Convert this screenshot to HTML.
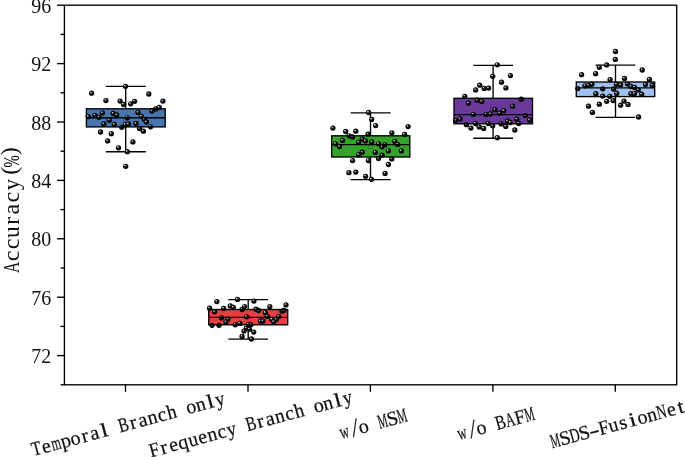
<!DOCTYPE html><html><head><meta charset="utf-8"><style>html,body{margin:0;padding:0;background:#fff;}svg{display:block;}text{filter:grayscale(1);}.tk{font-family:"Liberation Serif",serif;font-size:20px;fill:#111;}.xl{font-family:"Liberation Serif",serif;font-size:20px;fill:#111;stroke:#111;stroke-width:0.25px;}.yl{font-family:"Liberation Serif",serif;font-size:24px;fill:#111;}</style></head><body>
<svg width="685" height="457" viewBox="0 0 685 457">
<defs><radialGradient id="b" cx="0.5" cy="0.5" r="0.5" fx="0.33" fy="0.3"><stop offset="0" stop-color="#e8e8e8"/><stop offset="0.16" stop-color="#bbb"/><stop offset="0.4" stop-color="#1a1a1a"/><stop offset="1" stop-color="#000"/></radialGradient></defs>
<rect width="685" height="457" fill="#fff"/>
<g transform="translate(0.2,0.4)"><line x1="125.5" y1="86.0" x2="125.5" y2="108.4" stroke="#000" stroke-width="1.35"/><line x1="125.5" y1="126.5" x2="125.5" y2="151.3" stroke="#000" stroke-width="1.35"/><line x1="105.6" y1="86.0" x2="145.6" y2="86.0" stroke="#000" stroke-width="1.35"/><line x1="105.6" y1="151.3" x2="145.6" y2="151.3" stroke="#000" stroke-width="1.35"/><rect x="86.2" y="108.4" width="78.8" height="18.1" fill="#4875b0"/><rect x="123.5" y="117.2" width="3.6" height="3.6" fill="none" stroke="#000" stroke-opacity="0.35" stroke-width="0.6"/><circle cx="125.3" cy="85.9" r="2.65" fill="url(#b)"/><circle cx="91.4" cy="92.8" r="2.65" fill="url(#b)"/><circle cx="148.6" cy="93.6" r="2.65" fill="url(#b)"/><circle cx="105.7" cy="100.2" r="2.65" fill="url(#b)"/><circle cx="119.9" cy="100.7" r="2.65" fill="url(#b)"/><circle cx="123.4" cy="104.1" r="2.65" fill="url(#b)"/><circle cx="134.4" cy="100.9" r="2.65" fill="url(#b)"/><circle cx="130.4" cy="103.4" r="2.65" fill="url(#b)"/><circle cx="162.7" cy="100.7" r="2.65" fill="url(#b)"/><circle cx="159" cy="107.1" r="2.65" fill="url(#b)"/><circle cx="155.5" cy="108.5" r="2.65" fill="url(#b)"/><circle cx="151.8" cy="110.7" r="2.65" fill="url(#b)"/><circle cx="88" cy="116.2" r="2.65" fill="url(#b)"/><circle cx="94.8" cy="114.9" r="2.65" fill="url(#b)"/><circle cx="98.8" cy="116.9" r="2.65" fill="url(#b)"/><circle cx="102.2" cy="112.5" r="2.65" fill="url(#b)"/><circle cx="113" cy="113" r="2.65" fill="url(#b)"/><circle cx="116.5" cy="114.6" r="2.65" fill="url(#b)"/><circle cx="109.1" cy="119.9" r="2.65" fill="url(#b)"/><circle cx="127.1" cy="117.4" r="2.65" fill="url(#b)"/><circle cx="137.8" cy="112" r="2.65" fill="url(#b)"/><circle cx="141.2" cy="115.9" r="2.65" fill="url(#b)"/><circle cx="144.2" cy="118.9" r="2.65" fill="url(#b)"/><circle cx="146.2" cy="121.6" r="2.65" fill="url(#b)"/><circle cx="103.7" cy="123.6" r="2.65" fill="url(#b)"/><circle cx="114.1" cy="124.1" r="2.65" fill="url(#b)"/><circle cx="125" cy="124.2" r="2.65" fill="url(#b)"/><circle cx="128.2" cy="123.6" r="2.65" fill="url(#b)"/><circle cx="135.8" cy="123.1" r="2.65" fill="url(#b)"/><circle cx="150.4" cy="126.4" r="2.65" fill="url(#b)"/><circle cx="121.6" cy="126.9" r="2.65" fill="url(#b)"/><circle cx="139.3" cy="128.1" r="2.65" fill="url(#b)"/><circle cx="143.2" cy="130.8" r="2.65" fill="url(#b)"/><circle cx="100.3" cy="131.6" r="2.65" fill="url(#b)"/><circle cx="111.1" cy="133.3" r="2.65" fill="url(#b)"/><circle cx="107.4" cy="140.5" r="2.65" fill="url(#b)"/><circle cx="118.3" cy="147.4" r="2.65" fill="url(#b)"/><circle cx="132.7" cy="141.5" r="2.65" fill="url(#b)"/><circle cx="127.1" cy="151.3" r="2.65" fill="url(#b)"/><circle cx="125.5" cy="165.9" r="2.65" fill="url(#b)"/><rect x="86.2" y="108.4" width="78.8" height="18.1" fill="none" stroke="#000" stroke-width="1.35"/><line x1="86.2" y1="117.3" x2="165.0" y2="117.3" stroke="#000" stroke-width="1.35"/></g>
<g transform="translate(0.2,0.4)"><line x1="248.0" y1="299.3" x2="248.0" y2="309.1" stroke="#000" stroke-width="1.35"/><line x1="248.0" y1="324.4" x2="248.0" y2="338.7" stroke="#000" stroke-width="1.35"/><line x1="228.1" y1="299.3" x2="267.9" y2="299.3" stroke="#000" stroke-width="1.35"/><line x1="228.1" y1="338.7" x2="267.9" y2="338.7" stroke="#000" stroke-width="1.35"/><rect x="208.5" y="309.1" width="79.0" height="15.3" fill="#e63f3f"/><rect x="246.2" y="314.8" width="3.6" height="3.6" fill="none" stroke="#000" stroke-opacity="0.35" stroke-width="0.6"/><circle cx="237.3" cy="299" r="2.65" fill="url(#b)"/><circle cx="216.6" cy="301.2" r="2.65" fill="url(#b)"/><circle cx="209.4" cy="307.8" r="2.65" fill="url(#b)"/><circle cx="223.5" cy="308.1" r="2.65" fill="url(#b)"/><circle cx="230.1" cy="305.5" r="2.65" fill="url(#b)"/><circle cx="233.1" cy="306.9" r="2.65" fill="url(#b)"/><circle cx="241.9" cy="309.1" r="2.65" fill="url(#b)"/><circle cx="244.4" cy="306.2" r="2.65" fill="url(#b)"/><circle cx="214.4" cy="311.4" r="2.65" fill="url(#b)"/><circle cx="221.2" cy="317.5" r="2.65" fill="url(#b)"/><circle cx="227.8" cy="318.7" r="2.65" fill="url(#b)"/><circle cx="225.7" cy="321.6" r="2.65" fill="url(#b)"/><circle cx="246.3" cy="316.4" r="2.65" fill="url(#b)"/><circle cx="211.9" cy="324.9" r="2.65" fill="url(#b)"/><circle cx="218.8" cy="324.9" r="2.65" fill="url(#b)"/><circle cx="235" cy="324.4" r="2.65" fill="url(#b)"/><circle cx="239.6" cy="323" r="2.65" fill="url(#b)"/><circle cx="248.5" cy="323.9" r="2.65" fill="url(#b)"/><circle cx="250.7" cy="324.4" r="2.65" fill="url(#b)"/><circle cx="253.7" cy="300.7" r="2.65" fill="url(#b)"/><circle cx="269.6" cy="306.2" r="2.65" fill="url(#b)"/><circle cx="285.8" cy="304.5" r="2.65" fill="url(#b)"/><circle cx="255.8" cy="308.8" r="2.65" fill="url(#b)"/><circle cx="258.3" cy="310.1" r="2.65" fill="url(#b)"/><circle cx="265.2" cy="312.4" r="2.65" fill="url(#b)"/><circle cx="267.1" cy="316" r="2.65" fill="url(#b)"/><circle cx="281.9" cy="310.8" r="2.65" fill="url(#b)"/><circle cx="283.6" cy="310.1" r="2.65" fill="url(#b)"/><circle cx="278.5" cy="316.3" r="2.65" fill="url(#b)"/><circle cx="276" cy="319" r="2.65" fill="url(#b)"/><circle cx="271.6" cy="319" r="2.65" fill="url(#b)"/><circle cx="273.5" cy="321.4" r="2.65" fill="url(#b)"/><circle cx="260.3" cy="320.6" r="2.65" fill="url(#b)"/><circle cx="262.7" cy="320.6" r="2.65" fill="url(#b)"/><circle cx="246.2" cy="327.8" r="2.65" fill="url(#b)"/><circle cx="243.8" cy="330.7" r="2.65" fill="url(#b)"/><circle cx="249.2" cy="328.8" r="2.65" fill="url(#b)"/><circle cx="253.6" cy="331.7" r="2.65" fill="url(#b)"/><circle cx="241.9" cy="336" r="2.65" fill="url(#b)"/><circle cx="251.2" cy="338.6" r="2.65" fill="url(#b)"/><rect x="208.5" y="309.1" width="79.0" height="15.3" fill="none" stroke="#000" stroke-width="1.35"/><line x1="208.5" y1="317.0" x2="287.5" y2="317.0" stroke="#000" stroke-width="1.35"/></g>
<g transform="translate(0.2,0.4)"><line x1="370.3" y1="112.4" x2="370.3" y2="135.4" stroke="#000" stroke-width="1.35"/><line x1="370.3" y1="156.6" x2="370.3" y2="179.2" stroke="#000" stroke-width="1.35"/><line x1="350.4" y1="112.4" x2="390.4" y2="112.4" stroke="#000" stroke-width="1.35"/><line x1="350.4" y1="179.2" x2="390.4" y2="179.2" stroke="#000" stroke-width="1.35"/><rect x="331.5" y="135.4" width="78.1" height="21.2" fill="#34a32a"/><rect x="368.59999999999997" y="144.7" width="3.6" height="3.6" fill="none" stroke="#000" stroke-opacity="0.35" stroke-width="0.6"/><circle cx="368.4" cy="112.1" r="2.65" fill="url(#b)"/><circle cx="371.5" cy="119" r="2.65" fill="url(#b)"/><circle cx="375.4" cy="125.2" r="2.65" fill="url(#b)"/><circle cx="332.7" cy="127.7" r="2.65" fill="url(#b)"/><circle cx="345.5" cy="131.1" r="2.65" fill="url(#b)"/><circle cx="355.6" cy="130.8" r="2.65" fill="url(#b)"/><circle cx="348.9" cy="135.4" r="2.65" fill="url(#b)"/><circle cx="352.4" cy="136.5" r="2.65" fill="url(#b)"/><circle cx="367.9" cy="133.8" r="2.65" fill="url(#b)"/><circle cx="407.9" cy="126.2" r="2.65" fill="url(#b)"/><circle cx="391.6" cy="132.4" r="2.65" fill="url(#b)"/><circle cx="404.4" cy="134.1" r="2.65" fill="url(#b)"/><circle cx="342.3" cy="140" r="2.65" fill="url(#b)"/><circle cx="335.4" cy="143.4" r="2.65" fill="url(#b)"/><circle cx="339.3" cy="146.2" r="2.65" fill="url(#b)"/><circle cx="362" cy="138.7" r="2.65" fill="url(#b)"/><circle cx="358.5" cy="142" r="2.65" fill="url(#b)"/><circle cx="365.2" cy="140.5" r="2.65" fill="url(#b)"/><circle cx="371.5" cy="141.5" r="2.65" fill="url(#b)"/><circle cx="378.3" cy="143.4" r="2.65" fill="url(#b)"/><circle cx="381.8" cy="146.4" r="2.65" fill="url(#b)"/><circle cx="384.7" cy="144.4" r="2.65" fill="url(#b)"/><circle cx="394.6" cy="141" r="2.65" fill="url(#b)"/><circle cx="397.5" cy="144.2" r="2.65" fill="url(#b)"/><circle cx="362" cy="151.8" r="2.65" fill="url(#b)"/><circle cx="358.5" cy="154.3" r="2.65" fill="url(#b)"/><circle cx="375" cy="152" r="2.65" fill="url(#b)"/><circle cx="388.2" cy="150.4" r="2.65" fill="url(#b)"/><circle cx="401.2" cy="150.5" r="2.65" fill="url(#b)"/><circle cx="381.8" cy="154.8" r="2.65" fill="url(#b)"/><circle cx="378.3" cy="158.2" r="2.65" fill="url(#b)"/><circle cx="391.6" cy="158.5" r="2.65" fill="url(#b)"/><circle cx="352.4" cy="160.2" r="2.65" fill="url(#b)"/><circle cx="368.2" cy="160.2" r="2.65" fill="url(#b)"/><circle cx="388.2" cy="164.1" r="2.65" fill="url(#b)"/><circle cx="348.7" cy="172.3" r="2.65" fill="url(#b)"/><circle cx="355.6" cy="171.7" r="2.65" fill="url(#b)"/><circle cx="365.4" cy="175.9" r="2.65" fill="url(#b)"/><circle cx="384.9" cy="173" r="2.65" fill="url(#b)"/><circle cx="371.3" cy="178.9" r="2.65" fill="url(#b)"/><rect x="331.5" y="135.4" width="78.1" height="21.2" fill="none" stroke="#000" stroke-width="1.35"/><line x1="331.5" y1="144.2" x2="409.6" y2="144.2" stroke="#000" stroke-width="1.35"/></g>
<g transform="translate(0.2,0.4)"><line x1="492.9" y1="64.9" x2="492.9" y2="97.9" stroke="#000" stroke-width="1.35"/><line x1="492.9" y1="123.4" x2="492.9" y2="137.8" stroke="#000" stroke-width="1.35"/><line x1="473.1" y1="64.9" x2="512.8" y2="64.9" stroke="#000" stroke-width="1.35"/><line x1="473.1" y1="137.8" x2="512.8" y2="137.8" stroke="#000" stroke-width="1.35"/><rect x="453.8" y="97.9" width="78.5" height="25.5" fill="#6a3a9a"/><rect x="490.0" y="106.8" width="3.6" height="3.6" fill="none" stroke="#000" stroke-opacity="0.35" stroke-width="0.6"/><circle cx="497.1" cy="64.4" r="2.65" fill="url(#b)"/><circle cx="492.5" cy="75.9" r="2.65" fill="url(#b)"/><circle cx="510.2" cy="75.2" r="2.65" fill="url(#b)"/><circle cx="501.3" cy="81.8" r="2.65" fill="url(#b)"/><circle cx="505.7" cy="87.5" r="2.65" fill="url(#b)"/><circle cx="479.5" cy="84.8" r="2.65" fill="url(#b)"/><circle cx="475.4" cy="89.5" r="2.65" fill="url(#b)"/><circle cx="484" cy="88" r="2.65" fill="url(#b)"/><circle cx="488.4" cy="87.7" r="2.65" fill="url(#b)"/><circle cx="464.6" cy="95.9" r="2.65" fill="url(#b)"/><circle cx="477" cy="99.8" r="2.65" fill="url(#b)"/><circle cx="481.6" cy="101.2" r="2.65" fill="url(#b)"/><circle cx="468.3" cy="102.8" r="2.65" fill="url(#b)"/><circle cx="521" cy="98.8" r="2.65" fill="url(#b)"/><circle cx="512.4" cy="105.8" r="2.65" fill="url(#b)"/><circle cx="494.7" cy="109.3" r="2.65" fill="url(#b)"/><circle cx="503.6" cy="110.3" r="2.65" fill="url(#b)"/><circle cx="499.4" cy="112.7" r="2.65" fill="url(#b)"/><circle cx="473.1" cy="114.2" r="2.65" fill="url(#b)"/><circle cx="485.9" cy="114.2" r="2.65" fill="url(#b)"/><circle cx="490.2" cy="113.6" r="2.65" fill="url(#b)"/><circle cx="525.2" cy="115.2" r="2.65" fill="url(#b)"/><circle cx="455.4" cy="120.1" r="2.65" fill="url(#b)"/><circle cx="459.8" cy="118.6" r="2.65" fill="url(#b)"/><circle cx="516.6" cy="118.8" r="2.65" fill="url(#b)"/><circle cx="529.4" cy="119.6" r="2.65" fill="url(#b)"/><circle cx="507.5" cy="120.6" r="2.65" fill="url(#b)"/><circle cx="510.2" cy="122.1" r="2.65" fill="url(#b)"/><circle cx="518.5" cy="123.1" r="2.65" fill="url(#b)"/><circle cx="466.2" cy="124.3" r="2.65" fill="url(#b)"/><circle cx="470.7" cy="127.7" r="2.65" fill="url(#b)"/><circle cx="475.4" cy="123.3" r="2.65" fill="url(#b)"/><circle cx="479" cy="126.5" r="2.65" fill="url(#b)"/><circle cx="483.5" cy="128" r="2.65" fill="url(#b)"/><circle cx="487.9" cy="123.1" r="2.65" fill="url(#b)"/><circle cx="492.5" cy="125.4" r="2.65" fill="url(#b)"/><circle cx="501" cy="123.5" r="2.65" fill="url(#b)"/><circle cx="505.6" cy="126" r="2.65" fill="url(#b)"/><circle cx="514.6" cy="129.6" r="2.65" fill="url(#b)"/><circle cx="497.1" cy="137.3" r="2.65" fill="url(#b)"/><rect x="453.8" y="97.9" width="78.5" height="25.5" fill="none" stroke="#000" stroke-width="1.35"/><line x1="453.8" y1="114.2" x2="532.3" y2="114.2" stroke="#000" stroke-width="1.35"/></g>
<g transform="translate(0.2,0.4)"><line x1="615.3" y1="64.7" x2="615.3" y2="81.6" stroke="#000" stroke-width="1.35"/><line x1="615.3" y1="96.2" x2="615.3" y2="116.9" stroke="#000" stroke-width="1.35"/><line x1="595.4" y1="64.7" x2="635.1" y2="64.7" stroke="#000" stroke-width="1.35"/><line x1="595.4" y1="116.9" x2="635.1" y2="116.9" stroke="#000" stroke-width="1.35"/><rect x="576.1" y="81.6" width="78.4" height="14.6" fill="#a0c0f0"/><rect x="613.5" y="86.7" width="3.6" height="3.6" fill="none" stroke="#000" stroke-opacity="0.35" stroke-width="0.6"/><circle cx="615.3" cy="51.1" r="2.65" fill="url(#b)"/><circle cx="615.1" cy="59" r="2.65" fill="url(#b)"/><circle cx="606.5" cy="64.5" r="2.65" fill="url(#b)"/><circle cx="599.1" cy="66.9" r="2.65" fill="url(#b)"/><circle cx="581.4" cy="74.3" r="2.65" fill="url(#b)"/><circle cx="595.4" cy="73.3" r="2.65" fill="url(#b)"/><circle cx="609.9" cy="79.3" r="2.65" fill="url(#b)"/><circle cx="616.3" cy="83.9" r="2.65" fill="url(#b)"/><circle cx="584.8" cy="85.4" r="2.65" fill="url(#b)"/><circle cx="588.3" cy="84.9" r="2.65" fill="url(#b)"/><circle cx="591.7" cy="83.9" r="2.65" fill="url(#b)"/><circle cx="577.6" cy="88.2" r="2.65" fill="url(#b)"/><circle cx="602.5" cy="88.4" r="2.65" fill="url(#b)"/><circle cx="613.4" cy="88.6" r="2.65" fill="url(#b)"/><circle cx="642" cy="69.6" r="2.65" fill="url(#b)"/><circle cx="624.3" cy="78" r="2.65" fill="url(#b)"/><circle cx="649.2" cy="79" r="2.65" fill="url(#b)"/><circle cx="620.4" cy="84.5" r="2.65" fill="url(#b)"/><circle cx="627.3" cy="83.5" r="2.65" fill="url(#b)"/><circle cx="630.7" cy="86.1" r="2.65" fill="url(#b)"/><circle cx="634.3" cy="87" r="2.65" fill="url(#b)"/><circle cx="645.3" cy="84.2" r="2.65" fill="url(#b)"/><circle cx="652" cy="84.8" r="2.65" fill="url(#b)"/><circle cx="638.1" cy="89.5" r="2.65" fill="url(#b)"/><circle cx="595.6" cy="93.3" r="2.65" fill="url(#b)"/><circle cx="602.5" cy="95.7" r="2.65" fill="url(#b)"/><circle cx="609.6" cy="95.9" r="2.65" fill="url(#b)"/><circle cx="616.5" cy="93" r="2.65" fill="url(#b)"/><circle cx="606.5" cy="100.9" r="2.65" fill="url(#b)"/><circle cx="612.9" cy="100.2" r="2.65" fill="url(#b)"/><circle cx="599.1" cy="103.8" r="2.65" fill="url(#b)"/><circle cx="588.3" cy="105.8" r="2.65" fill="url(#b)"/><circle cx="592.2" cy="112" r="2.65" fill="url(#b)"/><circle cx="630.7" cy="93.3" r="2.65" fill="url(#b)"/><circle cx="634.2" cy="93.3" r="2.65" fill="url(#b)"/><circle cx="641.5" cy="93.8" r="2.65" fill="url(#b)"/><circle cx="623.8" cy="100.7" r="2.65" fill="url(#b)"/><circle cx="620.4" cy="104.8" r="2.65" fill="url(#b)"/><circle cx="627.8" cy="104.1" r="2.65" fill="url(#b)"/><circle cx="638.4" cy="116.6" r="2.65" fill="url(#b)"/><rect x="576.1" y="81.6" width="78.4" height="14.6" fill="none" stroke="#000" stroke-width="1.35"/><line x1="576.1" y1="87.4" x2="654.5" y2="87.4" stroke="#000" stroke-width="1.35"/></g>
<rect x="64.4" y="5.2" width="612.3" height="379.6" fill="none" stroke="#000" stroke-width="1.35"/>
<line x1="60.6" y1="384.8" x2="64.4" y2="384.8" stroke="#000" stroke-width="1.35"/>
<line x1="57.0" y1="355.6" x2="64.4" y2="355.6" stroke="#000" stroke-width="1.35"/>
<text class="tk" x="51.2" y="363.2" text-anchor="end">72</text>
<line x1="60.6" y1="326.4" x2="64.4" y2="326.4" stroke="#000" stroke-width="1.35"/>
<line x1="57.0" y1="297.2" x2="64.4" y2="297.2" stroke="#000" stroke-width="1.35"/>
<text class="tk" x="51.2" y="304.8" text-anchor="end">76</text>
<line x1="60.6" y1="268.0" x2="64.4" y2="268.0" stroke="#000" stroke-width="1.35"/>
<line x1="57.0" y1="238.8" x2="64.4" y2="238.8" stroke="#000" stroke-width="1.35"/>
<text class="tk" x="51.2" y="246.4" text-anchor="end">80</text>
<line x1="60.6" y1="209.6" x2="64.4" y2="209.6" stroke="#000" stroke-width="1.35"/>
<line x1="57.0" y1="180.4" x2="64.4" y2="180.4" stroke="#000" stroke-width="1.35"/>
<text class="tk" x="51.2" y="188.0" text-anchor="end">84</text>
<line x1="60.6" y1="151.2" x2="64.4" y2="151.2" stroke="#000" stroke-width="1.35"/>
<line x1="57.0" y1="122.0" x2="64.4" y2="122.0" stroke="#000" stroke-width="1.35"/>
<text class="tk" x="51.2" y="129.6" text-anchor="end">88</text>
<line x1="60.6" y1="92.8" x2="64.4" y2="92.8" stroke="#000" stroke-width="1.35"/>
<line x1="57.0" y1="63.6" x2="64.4" y2="63.6" stroke="#000" stroke-width="1.35"/>
<text class="tk" x="51.2" y="71.2" text-anchor="end">92</text>
<line x1="60.6" y1="34.4" x2="64.4" y2="34.4" stroke="#000" stroke-width="1.35"/>
<line x1="57.0" y1="5.2" x2="64.4" y2="5.2" stroke="#000" stroke-width="1.35"/>
<text class="tk" x="51.2" y="12.8" text-anchor="end">96</text>
<line x1="125.5" y1="384.8" x2="125.5" y2="391.8" stroke="#000" stroke-width="1.35"/>
<line x1="248.0" y1="384.8" x2="248.0" y2="391.8" stroke="#000" stroke-width="1.35"/>
<line x1="370.4" y1="384.8" x2="370.4" y2="391.8" stroke="#000" stroke-width="1.35"/>
<line x1="492.9" y1="384.8" x2="492.9" y2="391.8" stroke="#000" stroke-width="1.35"/>
<line x1="615.3" y1="384.8" x2="615.3" y2="391.8" stroke="#000" stroke-width="1.35"/>
<g transform="translate(129.9,430.0) rotate(-15.15)" class="xl"><text transform="translate(-95.00,0) scale(0.781,1.0)" x="-6.12">T</text><text transform="translate(-85.00,0) scale(1.000,1.0)" x="-4.48">e</text><text transform="translate(-75.00,0) scale(0.607,1.0)" x="-7.83">m</text><text transform="translate(-65.00,0) scale(1.000,1.0)" x="-4.77">p</text><text transform="translate(-55.00,0) scale(1.000,1.0)" x="-5.00">o</text><text transform="translate(-45.00,0) scale(1.000,1.0)" x="-3.44">r</text><text transform="translate(-35.00,0) scale(1.000,1.0)" x="-4.65">a</text><text transform="translate(-25.00,0) scale(1.262,1.0)" x="-2.78">l</text><text transform="translate(-5.00,0) scale(0.764,1.0)" x="-6.47">B</text><text transform="translate(5.00,0) scale(1.000,1.0)" x="-3.44">r</text><text transform="translate(15.00,0) scale(1.000,1.0)" x="-4.65">a</text><text transform="translate(25.00,0) scale(0.974,1.0)" x="-5.08">n</text><text transform="translate(35.00,0) scale(1.000,1.0)" x="-4.51">c</text><text transform="translate(45.00,0) scale(0.943,1.0)" x="-4.97">h</text><text transform="translate(65.00,0) scale(1.000,1.0)" x="-5.00">o</text><text transform="translate(75.00,0) scale(0.974,1.0)" x="-5.08">n</text><text transform="translate(85.00,0) scale(1.262,1.0)" x="-2.78">l</text><text transform="translate(95.00,0) scale(0.930,1.0)" x="-5.08">y</text></g>
<g transform="translate(252.4,430.0) rotate(-15.15)" class="xl"><text transform="translate(-100.00,0) scale(0.916,1.0)" x="-5.49">F</text><text transform="translate(-90.00,0) scale(1.000,1.0)" x="-3.44">r</text><text transform="translate(-80.00,0) scale(1.000,1.0)" x="-4.48">e</text><text transform="translate(-70.00,0) scale(1.000,1.0)" x="-5.18">q</text><text transform="translate(-60.00,0) scale(0.958,1.0)" x="-4.96">u</text><text transform="translate(-50.00,0) scale(1.000,1.0)" x="-4.48">e</text><text transform="translate(-40.00,0) scale(0.974,1.0)" x="-5.08">n</text><text transform="translate(-30.00,0) scale(1.000,1.0)" x="-4.51">c</text><text transform="translate(-20.00,0) scale(0.930,1.0)" x="-5.08">y</text><text transform="translate(0.00,0) scale(0.764,1.0)" x="-6.47">B</text><text transform="translate(10.00,0) scale(1.000,1.0)" x="-3.44">r</text><text transform="translate(20.00,0) scale(1.000,1.0)" x="-4.65">a</text><text transform="translate(30.00,0) scale(0.974,1.0)" x="-5.08">n</text><text transform="translate(40.00,0) scale(1.000,1.0)" x="-4.51">c</text><text transform="translate(50.00,0) scale(0.943,1.0)" x="-4.97">h</text><text transform="translate(70.00,0) scale(1.000,1.0)" x="-5.00">o</text><text transform="translate(80.00,0) scale(0.974,1.0)" x="-5.08">n</text><text transform="translate(90.00,0) scale(1.262,1.0)" x="-2.78">l</text><text transform="translate(100.00,0) scale(0.930,1.0)" x="-5.08">y</text></g>
<g transform="translate(374.8,430.0) rotate(-15.15)" class="xl"><text transform="translate(-30.00,0) scale(0.628,1.0)" x="-7.19">w</text><text transform="translate(-20.00,1.0) skewX(-9) scale(1.000,1.28)" x="-2.78">/</text><text transform="translate(-10.00,0) scale(1.000,1.0)" x="-5.00">o</text><text transform="translate(10.00,0) scale(0.541,1.0)" x="-8.89">M</text><text transform="translate(20.00,0) scale(1.000,1.0)" x="-5.61">S</text><text transform="translate(30.00,0) scale(0.541,1.0)" x="-8.89">M</text></g>
<g transform="translate(497.3,430.0) rotate(-15.15)" class="xl"><text transform="translate(-35.00,0) scale(0.628,1.0)" x="-7.19">w</text><text transform="translate(-25.00,1.0) skewX(-9) scale(1.000,1.28)" x="-2.78">/</text><text transform="translate(-15.00,0) scale(1.000,1.0)" x="-5.00">o</text><text transform="translate(5.00,0) scale(0.764,1.0)" x="-6.47">B</text><text transform="translate(15.00,0) scale(0.638,1.0)" x="-7.25">A</text><text transform="translate(25.00,0) scale(0.916,1.0)" x="-5.49">F</text><text transform="translate(35.00,0) scale(0.541,1.0)" x="-8.89">M</text></g>
<g transform="translate(619.7,430.0) rotate(-15.15)" class="xl"><text transform="translate(-65.00,0) scale(0.541,1.0)" x="-8.89">M</text><text transform="translate(-55.00,0) scale(1.000,1.0)" x="-5.61">S</text><text transform="translate(-45.00,0) scale(0.689,1.0)" x="-7.11">D</text><text transform="translate(-35.00,0) scale(1.000,1.0)" x="-5.61">S</text><text transform="translate(-25.00,0) scale(1.600,1.0)" x="-3.34">-</text><text transform="translate(-15.00,0) scale(0.916,1.0)" x="-5.49">F</text><text transform="translate(-5.00,0) scale(0.958,1.0)" x="-4.96">u</text><text transform="translate(5.00,0) scale(1.000,1.0)" x="-3.94">s</text><text transform="translate(15.00,0) scale(1.262,1.0)" x="-2.80">i</text><text transform="translate(25.00,0) scale(1.000,1.0)" x="-5.00">o</text><text transform="translate(35.00,0) scale(0.974,1.0)" x="-5.08">n</text><text transform="translate(45.00,0) scale(0.671,1.0)" x="-7.28">N</text><text transform="translate(55.00,0) scale(1.000,1.0)" x="-4.48">e</text><text transform="translate(65.00,0) scale(1.144,1.0)" x="-2.82">t</text></g>
<g class="yl"><text transform="translate(18.7,267.4) rotate(-90) scale(0.650,1)" x="-8.70" y="0">A</text><text transform="translate(18.7,255.8) rotate(-90) scale(1.000,1)" x="-5.41" y="0">c</text><text transform="translate(18.7,243.9) rotate(-90) scale(1.000,1)" x="-5.41" y="0">c</text><text transform="translate(18.7,232.2) rotate(-90) scale(0.976,1)" x="-5.95" y="0">u</text><text transform="translate(18.7,220.5) rotate(-90) scale(1.000,1)" x="-4.13" y="0">r</text><text transform="translate(18.7,208.9) rotate(-90) scale(1.000,1)" x="-5.58" y="0">a</text><text transform="translate(18.7,197.0) rotate(-90) scale(1.000,1)" x="-5.41" y="0">c</text><text transform="translate(18.7,184.5) rotate(-90) scale(0.947,1)" x="-6.10" y="0">y</text><text transform="translate(18.7,170.5) rotate(-90) scale(1.000,1)" x="-4.14" y="-2.0">(</text><text transform="translate(18.7,161.4) rotate(-90) scale(0.610,1)" x="-10.00" y="0">%</text><text transform="translate(18.7,151.3) rotate(-90) scale(1.000,1)" x="-3.86" y="-2.0">)</text></g>
</svg></body></html>
